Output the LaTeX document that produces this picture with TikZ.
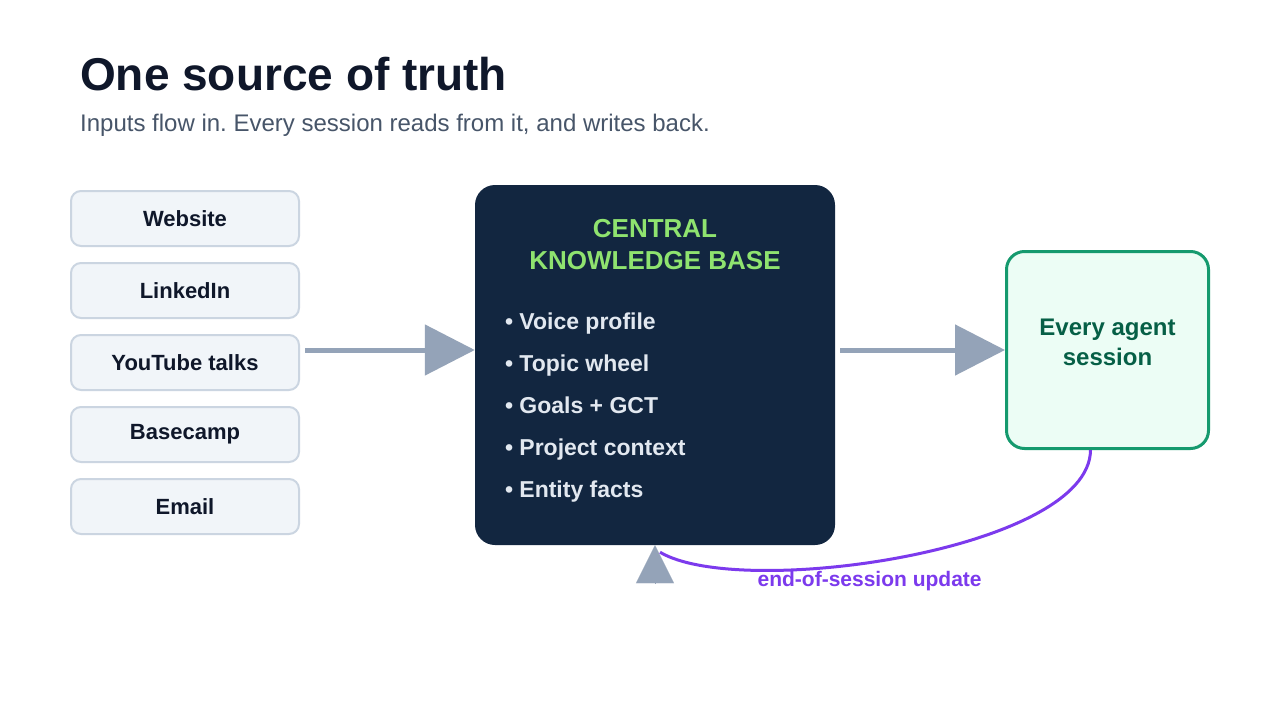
\documentclass[tikz,border=0pt]{standalone}
\usepackage{fontspec}
\setmainfont{Liberation Sans}
\frenchspacing
\usetikzlibrary{shapes, arrows.meta, positioning}
\definecolor{ink}{HTML}{0F172A}
\definecolor{slate}{HTML}{475569}
\definecolor{srcfill}{HTML}{F1F5F9}
\definecolor{srcline}{HTML}{CBD5E1}
\definecolor{flowgray}{HTML}{94A3B8}
\definecolor{kbfill}{HTML}{122640}
\definecolor{kbgreen}{HTML}{8FE36F}
\definecolor{kbtext}{HTML}{E2E8F0}
\definecolor{sessline}{HTML}{159A6E}
\definecolor{sessfill}{HTML}{ECFDF5}
\definecolor{sesstext}{HTML}{065F46}
\definecolor{updviolet}{HTML}{7C3AED}
\tikzstyle{heading} = [anchor=base west, inner sep=0, text=ink, font=\bfseries\fontsize{46}{50}\selectfont]
\tikzstyle{subheading} = [anchor=base west, inner sep=0, text=slate, font=\fontsize{24}{28}\selectfont]
\tikzstyle{source} = [rectangle, rounded corners=10pt, minimum width=228pt, minimum height=55pt, draw=srcline, line width=2pt, fill=srcfill, text=ink, font=\bfseries\fontsize{22}{26}\selectfont]
\tikzstyle{kbbox} = [rectangle, rounded corners=20pt, minimum width=360pt, minimum height=360pt, fill=kbfill]
\tikzstyle{kbhead} = [inner sep=0, align=center, text=kbgreen, font=\bfseries\fontsize{26}{32}\selectfont]
\tikzstyle{kblist} = [inner sep=0, align=left, text=kbtext, font=\bfseries\fontsize{23}{42}\selectfont]
\tikzstyle{session} = [rectangle, rounded corners=18pt, minimum width=202pt, minimum height=197pt, draw=sessline, line width=3pt, fill=sessfill, text=sesstext, align=center, text depth=15pt, font=\bfseries\fontsize{24}{30}\selectfont]
\tikzstyle{flow} = [draw=flowgray, line width=5pt, -{Triangle[length=50pt, width=50pt]}]
\tikzstyle{tip} = [draw=flowgray, line width=0.1pt, -{Triangle[length=38pt, width=38pt]}]
\tikzstyle{update} = [draw=updviolet, line width=3pt]
\tikzstyle{updlabel} = [inner sep=0, text=updviolet, font=\bfseries\fontsize{21}{24}\selectfont]

\begin{document}
\begin{tikzpicture}[x=1pt, y=-1pt]
            \fill[white] (0,0) rectangle (1280,720);
            \useasboundingbox (0,0) rectangle (1280,720);

            % Heading
            \node (title) [heading] at (80,90) {One source of truth};
            \node (subtitle) [subheading] at (80,131) {Inputs flow in. Every session reads from it, and writes back.};

            % Inputs
            \node (src_1) [source] at (185,218.5) {Website};
            \node (src_2) [source, below=15pt of src_1] {LinkedIn};
            \node (src_3) [source, below=15pt of src_2] {YouTube talks};
            \node (src_4) [source, below=15pt of src_3] {Basecamp};
            \node (src_5) [source, below=15pt of src_4] {Email};

            % Knowledge base
            \node (kb) [kbbox] at (655,365) {};
            \node (kb_head) [kbhead, below=34pt of kb.north] {CENTRAL\\KNOWLEDGE BASE};
            \node (kb_list) [kblist, below right=128pt and 30pt of kb.north west] {• Voice profile\\• Topic wheel\\• Goals + GCT\\• Project context\\• Entity facts};

            % Session
            \node (sess) [session] at (1107.5,350) {Every agent\\session};

            % Draw lines
            \coordinate (in) at (305,350);
            \coordinate (out) at (840,350);
            \coordinate (fb_end) at ([shift={(5,7)}]kb.south);
            \path [flow] (in) -- (kb.west |- in);
            \path [flow] (out) -- (sess.west);
            \path [tip] ([yshift=-38pt]kb.south) -- (kb.south);
            \path [update] ([xshift=-17pt]sess.south) .. controls (1090,550) and (740,600) .. (fb_end)
                node [updlabel, pos=0.56, below=7pt] {end-of-session update};
\end{tikzpicture}
\end{document}
